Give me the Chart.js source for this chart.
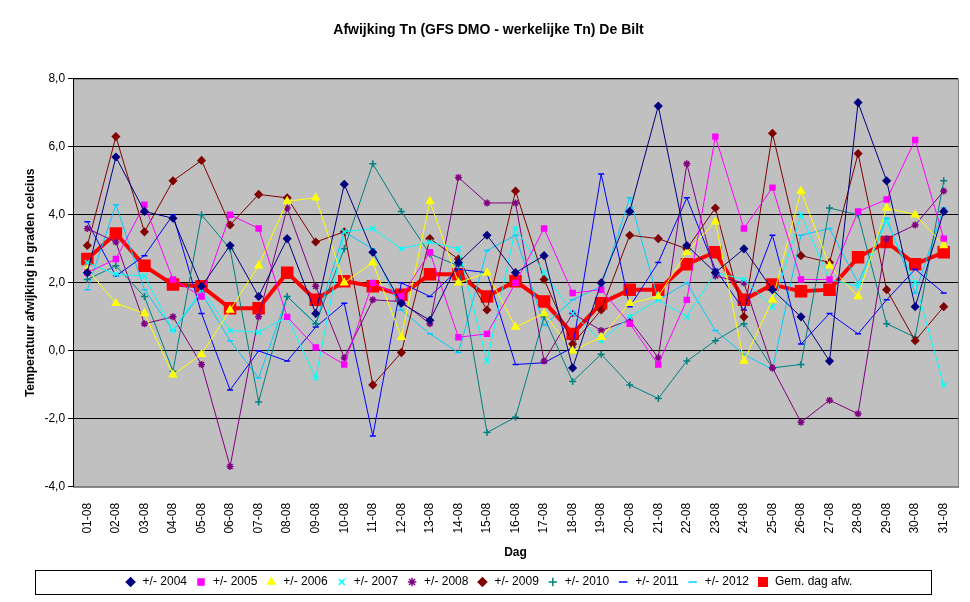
<!DOCTYPE html>
<html><head><meta charset="utf-8">
<script src="https://cdn.jsdelivr.net/npm/chart.js@4"></script>
<style>html,body{margin:0;padding:0;background:#fff}#w{width:970px;height:602px}</style>
</head><body><div id="w"><canvas id="c"></canvas></div>
<script>
const days = ["01-08","02-08","03-08","04-08","05-08","06-08","07-08","08-08","09-08","10-08","11-08","12-08","13-08","14-08","15-08","16-08","17-08","18-08","19-08","20-08","21-08","22-08","23-08","24-08","25-08","26-08","27-08","28-08","29-08","30-08","31-08"];
const y2004 = [2.3,5.7,4.1,3.9,1.9,3.1,1.6,3.3,1.1,4.9,2.9,1.4,0.9,2.6,3.4,2.3,2.8,-0.5,2.0,4.1,7.2,3.1,2.3,3.0,1.8,1.0,-0.3,7.3,5.0,1.3,4.1];
const y2005 = [2.3,2.7,4.3,2.1,1.6,4.0,3.6,1.0,0.1,-0.4,2.0,1.6,2.9,0.4,0.5,2.0,3.6,1.7,1.8,0.8,-0.4,1.5,6.3,3.6,4.8,2.1,2.1,4.1,4.45,6.2,3.3];
const y2006 = [2.4,1.4,1.1,-0.7,-0.1,1.2,2.5,4.4,4.5,2.0,2.6,0.4,4.4,2.0,2.3,0.7,1.1,0.0,0.4,1.4,1.6,2.9,3.8,-0.3,1.5,4.7,2.5,1.6,4.2,4.0,3.1];
const y2007 = [2.6,2.25,2.2,0.6,1.8,0.6,0.55,1.0,-0.8,3.5,3.6,3.0,3.2,3.0,-0.3,3.6,2.3,1.1,0.3,1.0,1.5,1.0,2.3,2.1,1.3,4.0,2.1,1.9,3.8,2.0,-1.0];
const y2008 = [3.6,3.2,0.8,1.0,-0.4,-3.4,1.0,4.2,1.9,-0.2,1.5,1.45,0.8,5.1,4.35,4.35,-0.3,1.1,0.6,0.9,-0.2,5.5,2.2,2.0,-0.5,-2.1,-1.45,-1.85,3.3,3.7,4.7];
const y2009 = [3.1,6.3,3.5,5.0,5.6,3.7,4.6,4.5,3.2,3.5,-1.0,-0.05,3.3,2.7,1.2,4.7,2.1,0.2,1.2,3.4,3.3,3.0,4.2,1.0,6.4,2.8,2.6,5.8,1.8,0.3,1.3];
const y2010 = [2.1,2.5,1.6,-0.6,4.0,3.0,-1.5,1.6,0.8,3.0,5.5,4.1,2.85,2.5,-2.4,-1.95,1.0,-0.9,-0.1,-1.0,-1.4,-0.3,0.3,0.8,-0.5,-0.4,4.2,4.0,0.8,0.4,5.0];
const y2011 = [3.8,2.2,2.8,4.0,1.1,-1.15,0.0,-0.3,0.7,1.4,-2.5,2.0,1.6,2.4,2.3,-0.4,-0.35,0.1,5.2,1.3,2.6,4.5,2.4,1.2,3.4,0.2,1.1,0.5,1.5,2.4,1.7];
const y2012 = [1.8,4.3,1.8,0.6,1.7,0.3,-0.8,1.6,0.8,3.5,3.0,1.2,0.5,-0.05,2.95,3.4,0.75,1.5,1.9,4.5,1.5,2.0,0.6,-0.1,-0.55,3.4,3.6,2.0,3.9,1.7,4.2];
const gem = [2.7,3.45,2.5,1.95,1.9,1.25,1.25,2.3,1.5,2.05,1.9,1.65,2.25,2.25,1.6,2.05,1.45,0.5,1.4,1.8,1.8,2.55,2.9,1.5,1.95,1.75,1.8,2.75,3.2,2.55,2.9];
const yTicks = [-4,-2,0,2,4,6,8];

function ds(label,data,color,style,r){return {label,data,borderColor:color,backgroundColor:color,borderWidth:1,pointStyle:style,pointRadius:r,pointBorderWidth:1.5,tension:0};}
const sets = [
  ds("+/- 2004",y2004,"#000080","rectRot",3.5),
  ds("+/- 2005",y2005,"#FF00FF","rect",3.5),
  ds("+/- 2006",y2006,"#FFFF00","triangle",4),
  ds("+/- 2007",y2007,"#00FFFF","crossRot",3.5),
  ds("+/- 2008",y2008,"#800080","star",3.5),
  ds("+/- 2009",y2009,"#800000","rectRot",3.5),
  ds("+/- 2010",y2010,"#008080","cross",3.5),
  ds("+/- 2011",y2011,"#0000FF","line",3),
  ds("+/- 2012",y2012,"#00CCFF","line",3),
  {label:"Gem. dag afw.",data:gem,borderColor:"#FF0000",backgroundColor:"#FF0000",borderWidth:4,pointStyle:"rect",pointRadius:6,tension:0}
];
const bg = {id:"bg",beforeDraw(ch){const a=ch.chartArea,c=ch.ctx;c.save();c.fillStyle="#C0C0C0";c.fillRect(a.left,a.top,a.right-a.left,a.bottom-a.top);c.strokeStyle="#808080";c.lineWidth=1;c.strokeRect(a.left+0.5,a.top+0.5,a.right-a.left,a.bottom-a.top);c.restore();},
  afterDraw(ch){const l=ch.legend,c=ch.ctx;c.save();c.strokeStyle="#000";c.lineWidth=1;c.strokeRect(35.5,l.top+2.5,896,l.height-6);c.restore();}};
Chart.defaults.font.family="'Liberation Sans', Arial, sans-serif";
Chart.defaults.color="#000";
new Chart(document.getElementById("c"),{type:"line",data:{labels:days,datasets:sets},plugins:[bg],
options:{responsive:true,maintainAspectRatio:false,animation:false,
 layout:{padding:{left:19,right:12,top:8,bottom:4}},
 plugins:{title:{display:true,text:"Afwijking Tn (GFS DMO - werkelijke Tn) De Bilt",font:{size:14,weight:"bold"},padding:{top:14,bottom:40}},
  legend:{position:"bottom",labels:{usePointStyle:true,boxWidth:30,boxHeight:6,padding:8,font:{size:12}}},tooltip:{enabled:false}},
 scales:{
  x:{offset:true,grid:{display:false},border:{color:"#808080"},ticks:{maxRotation:90,minRotation:90,font:{size:12},autoSkip:false,padding:8},
     title:{display:true,text:"Dag",font:{size:12,weight:"bold"},padding:{top:4,bottom:8}}},
  y:{min:-4,max:8,afterBuildTicks(ax){ax.ticks=yTicks.map(v=>({value:v}));},
     grid:{color:"#000",drawTicks:true,tickLength:5,tickColor:"#000"},border:{color:"#000"},
     ticks:{font:{size:12},callback:v=>v.toFixed(1).replace(".",",")},
     title:{display:true,text:"Temperatuur afwijking in graden celcius",font:{size:12,weight:"bold"}}}
 }}});
</script></body></html>
